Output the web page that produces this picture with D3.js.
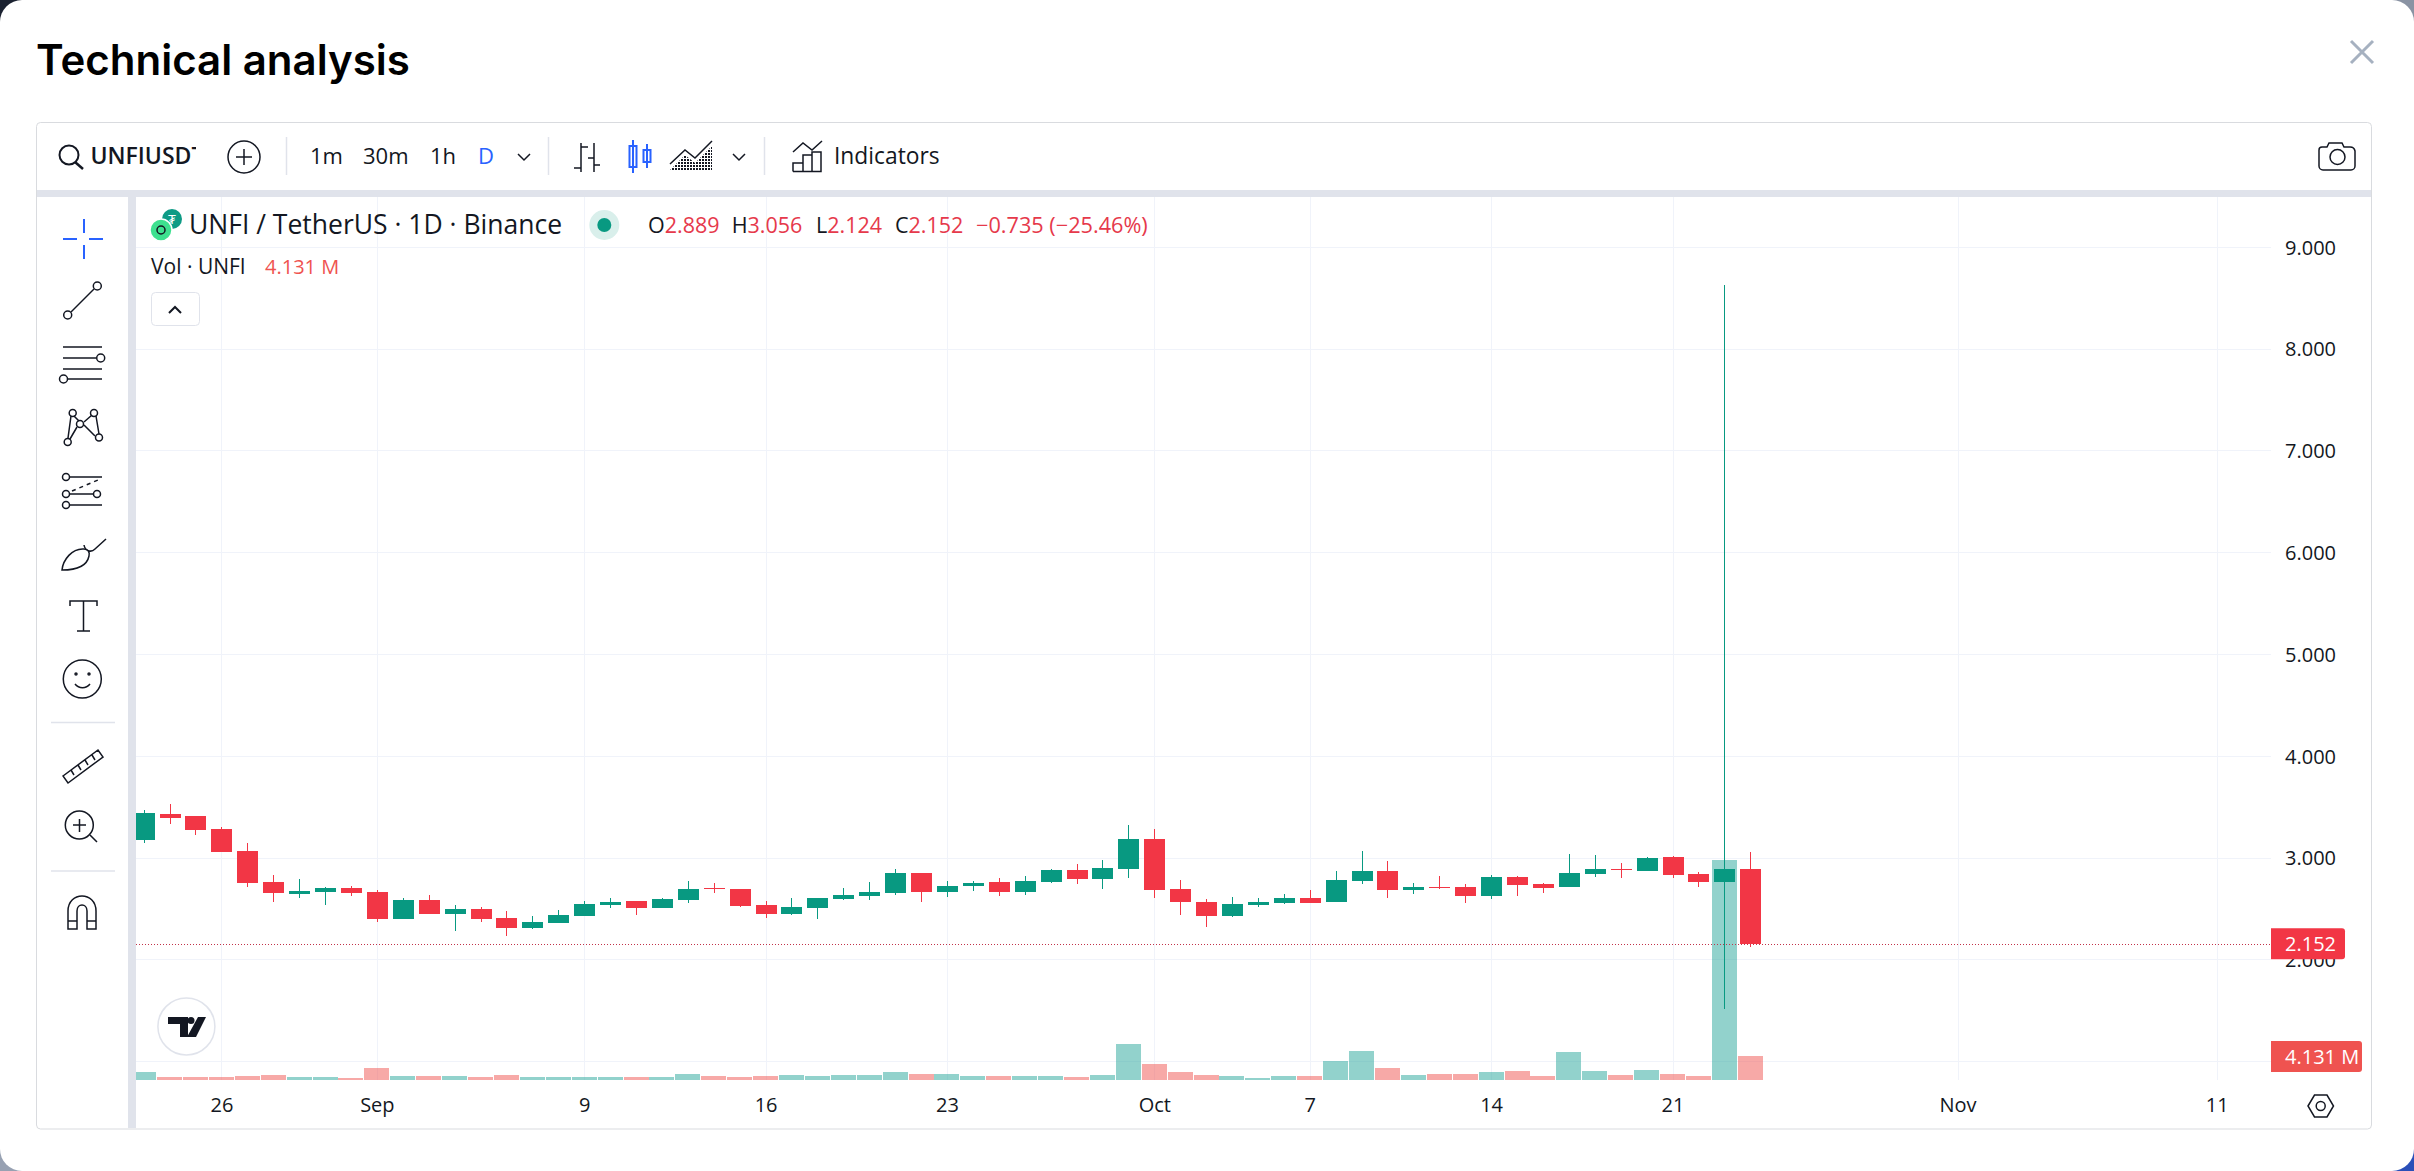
<!DOCTYPE html>
<html><head><meta charset="utf-8">
<script src="https://cdn.jsdelivr.net/npm/d3@7"></script>
<style>
html,body{margin:0;padding:0;background:#fff;overflow:hidden}
svg{display:block}
text{font-family:"Open Sans",sans-serif;fill:#131722}
.ic{fill:none;stroke:#131722;stroke-width:1.5}
</style></head><body>
<svg id="c" width="2414" height="1171"></svg>
<script>
const firstDay = "2024-08-23", lastDay = "2024-10-24";
const open  = [3.172,3.427,3.407,3.280,3.064,2.759,2.642,2.661,2.701,2.661,2.396,2.583,2.445,2.494,2.406,2.308,2.357,2.426,2.534,2.573,2.504,2.583,2.701,2.691,2.534,2.445,2.504,2.593,2.622,2.651,2.848,2.661,2.720,2.759,2.661,2.759,2.877,2.789,2.887,3.182,2.691,2.563,2.426,2.534,2.553,2.602,2.563,2.769,2.867,2.681,2.710,2.710,2.622,2.809,2.740,2.710,2.838,2.887,2.867,3.005,2.838,2.759,2.889];
const high  = [3.466,3.525,3.407,3.299,3.142,2.828,2.789,2.710,2.720,2.678,2.602,2.632,2.534,2.514,2.475,2.426,2.484,2.573,2.602,2.573,2.602,2.769,2.750,2.691,2.573,2.602,2.602,2.701,2.759,2.887,2.848,2.769,2.769,2.799,2.818,2.887,2.936,2.975,3.319,3.280,2.779,2.593,2.612,2.602,2.642,2.681,2.867,3.064,2.966,2.750,2.818,2.740,2.828,2.818,2.750,3.034,3.025,2.946,3.005,3.015,2.858,8.620,3.056];
const low   = [3.146,3.332,3.224,3.057,2.714,2.563,2.602,2.534,2.622,2.367,2.396,2.445,2.278,2.367,2.229,2.298,2.357,2.426,2.504,2.435,2.504,2.553,2.651,2.514,2.406,2.435,2.396,2.583,2.583,2.632,2.563,2.612,2.671,2.622,2.632,2.750,2.740,2.691,2.799,2.602,2.435,2.318,2.416,2.514,2.543,2.553,2.563,2.740,2.602,2.642,2.691,2.553,2.593,2.622,2.651,2.710,2.809,2.799,2.867,2.799,2.710,1.512,2.124];
const close = [3.437,3.388,3.270,3.057,2.750,2.651,2.671,2.701,2.651,2.396,2.583,2.445,2.494,2.396,2.308,2.367,2.435,2.543,2.563,2.504,2.593,2.691,2.694,2.524,2.445,2.514,2.602,2.632,2.661,2.848,2.661,2.720,2.750,2.661,2.769,2.877,2.789,2.897,3.182,2.681,2.563,2.426,2.543,2.563,2.602,2.553,2.779,2.867,2.681,2.710,2.701,2.622,2.809,2.730,2.701,2.848,2.887,2.881,2.995,2.828,2.759,2.887,2.152];
const volume = [1.38,.52,.52,.52,.69,.86,.52,.52,.34,2.07,.69,.69,.69,.52,.86,.52,.52,.52,.52,.52,.52,1.03,.69,.52,.69,.86,.69,.86,.86,1.38,1.03,1.03,.69,.69,.69,.69,.52,.86,6.20,2.75,1.38,.86,.69,.34,.69,.69,3.27,4.99,2.07,.86,1.03,1.03,1.38,1.55,.69,4.82,1.55,.86,1.72,1.03,.69,37.9,4.131];
const priceTicks = [2,3,4,5,6,7,8,9];
const gridPrices = [1,2,3,4,5,6,7,8,9];
const timeTicks = ["2024-08-26","2024-09-01","2024-09-09","2024-09-16","2024-09-23","2024-10-01","2024-10-07","2024-10-14","2024-10-21","2024-11-01","2024-11-11"];
const monthLabels = {"2024-09-01":"Sep","2024-10-01":"Oct","2024-11-01":"Nov"};
const lastPrice = 2.152, lastVolume = 4.131;
const ohlcLabels = [["O","2.889",648],["H","3.056",731.7],["L","2.124",816],["C","2.152",895]];
const changeLabel = "\u22120.735 (\u221225.46%)";

const UP="#089981", DOWN="#F23645", UPV="rgba(38,166,154,.5)", DOWNV="rgba(239,83,80,.5)", GRID="#F0F3FA", BAND="#E0E3EB";
const parse = d3.utcParse("%Y-%m-%d");
const days = d3.utcDay.range(parse(firstDay), d3.utcDay.offset(parse(lastDay),1));
const data = days.map((d,i)=>({d,o:open[i],h:high[i],l:low[i],c:close[i],v:volume[i]}));

const x = d3.scaleUtc().domain([parse("2024-08-26"),parse("2024-10-21")]).range([221.4,1672.5]);
const y = d3.scaleLinear().domain([3,9]).range([857.5,246.7]);
const yv = d3.scaleLinear().domain([0,37.9]).range([1080,860]);

const svg = d3.select("#c");
// window corners + modal
[[0,0,"#1b2231"],[2384,0,"#8a93a3"],[0,1141,"#97a1b2"],[2384,1141,"#2a4fb8"]].forEach(c=>
  svg.append("rect").attr("x",c[0]).attr("y",c[1]).attr("width",30).attr("height",30).attr("fill",c[2]));
svg.append("rect").attr("width",2414).attr("height",1171).attr("rx",22).attr("fill","#fff");

svg.append("text").text("Technical analysis").attr("x",36).attr("y",75)
  .style("font-family","Inter").style("font-weight",600).style("font-size","42px").style("fill","#000");

// close
svg.append("path").attr("d","M2351 41L2373 63M2373 41L2351 63").attr("stroke","#A6B1C0").attr("stroke-width",3).attr("fill","none");

// panel
svg.append("rect").attr("x",36.5).attr("y",122.5).attr("width",2335).attr("height",1006.5).attr("rx",4).attr("fill","#fff").attr("stroke","#D9DBDF");
svg.append("rect").attr("x",37).attr("y",190).attr("width",2334).attr("height",7).attr("fill",BAND);

// chart
const defs = svg.append("defs");
defs.append("clipPath").attr("id","pane").append("rect").attr("x",136).attr("y",197).attr("width",2135).attr("height",883);
const dp = defs.append("pattern").attr("id","dots").attr("width",3).attr("height",3).attr("patternUnits","userSpaceOnUse");
dp.append("rect").attr("width",2).attr("height",2).attr("fill","#131722");

const grid = svg.append("g");
grid.selectAll(".h").data(gridPrices).join("line").attr("x1",136).attr("x2",2271)
  .attr("y1",d=>Math.round(y(d))+.5).attr("y2",d=>Math.round(y(d))+.5).attr("stroke",GRID);
grid.selectAll(".v").data(timeTicks).join("line").attr("y1",197).attr("y2",1080)
  .attr("x1",d=>Math.round(x(parse(d)))+.5).attr("x2",d=>Math.round(x(parse(d)))+.5).attr("stroke",GRID);

const pane = svg.append("g").attr("clip-path","url(#pane)");
pane.selectAll(".vol").data(data).join("rect")
  .attr("x",d=>Math.round(x(d.d)-12.5)).attr("width",25)
  .attr("y",d=>Math.round(yv(d.v))).attr("height",d=>1080-Math.round(yv(d.v)))
  .attr("fill",d=>d.c>=d.o?UPV:DOWNV);
pane.selectAll(".wick").data(data).join("line")
  .attr("x1",d=>Math.round(x(d.d))+.5).attr("x2",d=>Math.round(x(d.d))+.5)
  .attr("y1",d=>Math.round(y(d.h))).attr("y2",d=>Math.round(y(d.l)))
  .attr("stroke",d=>d.c>=d.o?UP:DOWN).attr("stroke-width",1);
pane.selectAll(".body").data(data).join("rect")
  .attr("x",d=>Math.round(x(d.d))-10).attr("width",21)
  .attr("y",d=>Math.round(y(Math.max(d.o,d.c))))
  .attr("height",d=>Math.max(1,Math.round(y(Math.min(d.o,d.c)))-Math.round(y(Math.max(d.o,d.c)))))
  .attr("fill",d=>d.c>=d.o?UP:DOWN);
pane.append("line").attr("x1",136).attr("x2",2271).attr("y1",Math.round(y(lastPrice))+.5).attr("y2",Math.round(y(lastPrice))+.5)
  .attr("stroke","#C2334A").attr("stroke-dasharray","1 2");

// axes
const ya = svg.append("g").attr("transform","translate(2285,1)")
  .call(d3.axisRight(y).tickValues(priceTicks).tickFormat(d3.format(".3f")).tickSize(0).tickPadding(0));
ya.select(".domain").remove();
ya.selectAll("text").style("font-size","20px").style("font-family",'"Open Sans"').attr("fill","#131722");
const xa = svg.append("g").attr("transform","translate(0,1080)")
  .call(d3.axisBottom(x).tickValues(timeTicks.map(parse)).tickSize(0).tickPadding(18)
    .tickFormat(d=>monthLabels[d3.utcFormat("%Y-%m-%d")(d)]||d3.utcFormat("%-d")(d)));
xa.select(".domain").remove();
xa.selectAll("text").style("font-size","20px").style("font-family",'"Open Sans"').attr("fill","#131722");

// last value tags
const tag=(yc,w,col,t)=>{
  svg.append("path").attr("d",`M2271 ${yc-15.5}H${2271+w-3}q3 0 3 3V${yc+12.5}q0 3 -3 3H2271Z`).attr("fill",col);
  svg.append("text").text(t).attr("x",2285).attr("y",yc+7).style("fill","#fff").style("font-size","20px");
};
tag(y(lastPrice),74,DOWN,d3.format(".3f")(lastPrice));
tag(1056.5,91,"#EF5350",d3.format(".3f")(lastVolume)+" M");

// legend
svg.append("circle").attr("cx",172).attr("cy",219).attr("r",10).attr("fill","#0E9B85");
svg.append("text").text("₮").attr("x",172).attr("y",224).attr("text-anchor","middle").style("fill","#fff").style("font-size","13px");
svg.append("circle").attr("cx",161).attr("cy",230).attr("r",11).attr("fill","#3DE08F").attr("stroke","#fff").attr("stroke-width",1.5);
svg.append("circle").attr("cx",161).attr("cy",230).attr("r",4).attr("fill","none").attr("stroke","#131722").attr("stroke-width",1.5);
svg.append("text").text("UNFI / TetherUS · 1D · Binance").attr("x",189).attr("y",234).style("font-size","26.5px");
svg.append("circle").attr("cx",604.3).attr("cy",225).attr("r",15).attr("fill","#D9EFEB");
svg.append("circle").attr("cx",604.3).attr("cy",225).attr("r",7).attr("fill",UP);
ohlcLabels.forEach(l=>{
  const t=svg.append("text").attr("x",l[2]).attr("y",233).style("font-size","21.5px");
  t.append("tspan").text(l[0]);
  t.append("tspan").text(l[1]).style("fill","#E6394B");
});
svg.append("text").text(changeLabel).attr("x",976).attr("y",233).style("font-size","21.7px").style("fill","#E6394B");
svg.append("text").text("Vol · UNFI").attr("x",151).attr("y",274).style("font-size","21px");
svg.append("text").text("4.131 M").attr("x",265).attr("y",274).style("font-size","20px").style("fill","#EF5350");
svg.append("rect").attr("x",151.5).attr("y",292.5).attr("width",48).attr("height",33).attr("rx",4).attr("fill","#fff").attr("stroke","#E0E3EB");
svg.append("path").attr("class","ic").attr("d","M169 313L175 307L181 313").style("stroke-width",2);

// watermark
svg.append("circle").attr("cx",186.4).attr("cy",1026.5).attr("r",28.5).attr("fill","#fff").attr("stroke","#E0E3EB").attr("stroke-width",1.5);
svg.append("path").attr("fill","#131722").attr("d","M168 1017H188V1037H180V1024H168ZM198 1017H206L196 1037H187Z");
svg.append("circle").attr("cx",191).attr("cy",1020.5).attr("r",3.5).attr("fill","#131722");

// left rail band
svg.append("rect").attr("x",128).attr("y",197).attr("width",8).attr("height",931).attr("fill",BAND);

// toolbar text
const tb=(t,xp,col,w,fs)=>svg.append("text").text(t).attr("x",xp).attr("y",164).style("font-size",(fs||22)+"px").style("fill",col||"#131722").style("font-weight",w||400);
defs.append("clipPath").attr("id","sym").append("rect").attr("x",85).attr("y",135).attr("width",111).attr("height",40);
tb("UNFIUSDT",90.5,"#131722",600,23).attr("clip-path","url(#sym)");
tb("1m",310); tb("30m",363); tb("1h",430); tb("D",478,"#2962FF"); tb("Indicators",834,null,400,22.8);
[286,548,764].forEach(v=>svg.append("line").attr("x1",v+.5).attr("x2",v+.5).attr("y1",137).attr("y2",175).attr("stroke",BAND).attr("stroke-width",1.5));
[722.5,871].forEach(v=>svg.append("line").attr("x1",51).attr("x2",115).attr("y1",v).attr("y2",v).attr("stroke",BAND).attr("stroke-width",1.5));

// icons
svg.append("g").attr("class","ic").html(`
<circle cx="69" cy="155" r="9.5" stroke-width="2"/><path d="M75 162L83 169" stroke-width="2.5"/>
<circle cx="244" cy="157" r="16"/><path d="M244 149V165M236 157H252"/>
<path d="M518 154L524 160L530 154"/><path d="M733 154L739 160L745 154"/>
<path d="M581 143V172M574 168H581M581 147H588M594 143V172M594 165H600M594 158H588"/>
<path d="M793 152L803 143L812 150L822 141"/>
<path d="M793 171.5V163H803V155H812V171.5H793M803 171.5V163M812 171.5V152H821V171.5H812"/>
<path d="M670 164L685 150L695 158L712 141"/>
<path d="M2319 150a3 3 0 0 1 3 -3h5l2 -4h13l2 4h6a5 5 0 0 1 5 4v15a4 4 0 0 1 -4 4h-28a4 4 0 0 1 -4 -4Z"/>
<circle cx="2337.500" cy="157" r="7.500"/>
<path d="M2308 1106L2314.500 1095H2327L2333.500 1106L2327 1117H2314.500Z"/><circle cx="2320.700" cy="1106" r="4.500"/>

<path d="M84 219V233M84 245V259M63 239H77M89 239H103" stroke="#2962FF" stroke-width="2"/>
<circle cx="67.700" cy="315" r="4"/><circle cx="97.300" cy="286" r="4"/><path d="M71 312L94 289"/>
<path d="M63 347H102M63 358H96M63 369H102M68 379H102"/><circle cx="100.700" cy="358" r="4"/><circle cx="63.500" cy="379" r="4"/>
<circle cx="72.700" cy="413" r="3.500"/><circle cx="94" cy="413" r="3.500"/><circle cx="80" cy="424" r="3.500"/><circle cx="67.700" cy="442" r="3.500"/><circle cx="99" cy="437.500" r="3.500"/>
<path d="M71 416L68 438M74 416L79 421M92 415L84 422M96 416L99 434M77 427L70 439M84 425L95 436"/>
<circle cx="66" cy="477" r="3.500"/><circle cx="66" cy="494" r="3.500"/><circle cx="97" cy="494" r="3.500"/><circle cx="66" cy="505" r="3.500"/>
<path d="M70 477H102M70 494H93M70 505H102"/><path d="M72 491L98 480" stroke-dasharray="4 4"/>
<path d="M62 570C63 560 72 548 84 549C88 549 90 552 89 556C87 566 76 570 62 570ZM84 545C85 551 91 553 95 549L106 539"/>
<path d="M70 606V601H97V606M83.500 601V631M77 631H90"/>
<circle cx="82.300" cy="679" r="19"/><path d="M75 684C79 689 86 689 90 684"/><circle cx="76" cy="674" r="1"/><circle cx="89" cy="674" r="1"/>
<path d="M63 776L98 750L103 757L68 783ZM71 770L74 775M78 765L81 770M85 760L88 765M92 755L95 760"/>
<circle cx="79.300" cy="825" r="14"/><path d="M73 825H86M79.500 819V832M90 835L97 842"/>
<path d="M68 929V911C68 891 96 891 96 911V929H87V911C87 903 77 903 77 911V929ZM68 921H77M87 921H96"/>
`);
svg.append("path").attr("d","M670 170L685 155L695 163L712 146V170Z").attr("fill","url(#dots)");
// active candle icon
svg.append("path").attr("fill","none").attr("stroke","#2962FF").attr("stroke-width",2)
  .attr("d","M633 140V173M647 144V168M629.500 146H636.500V167H629.500ZM643.500 150H650.500V162H643.500Z");
</script></body></html>
